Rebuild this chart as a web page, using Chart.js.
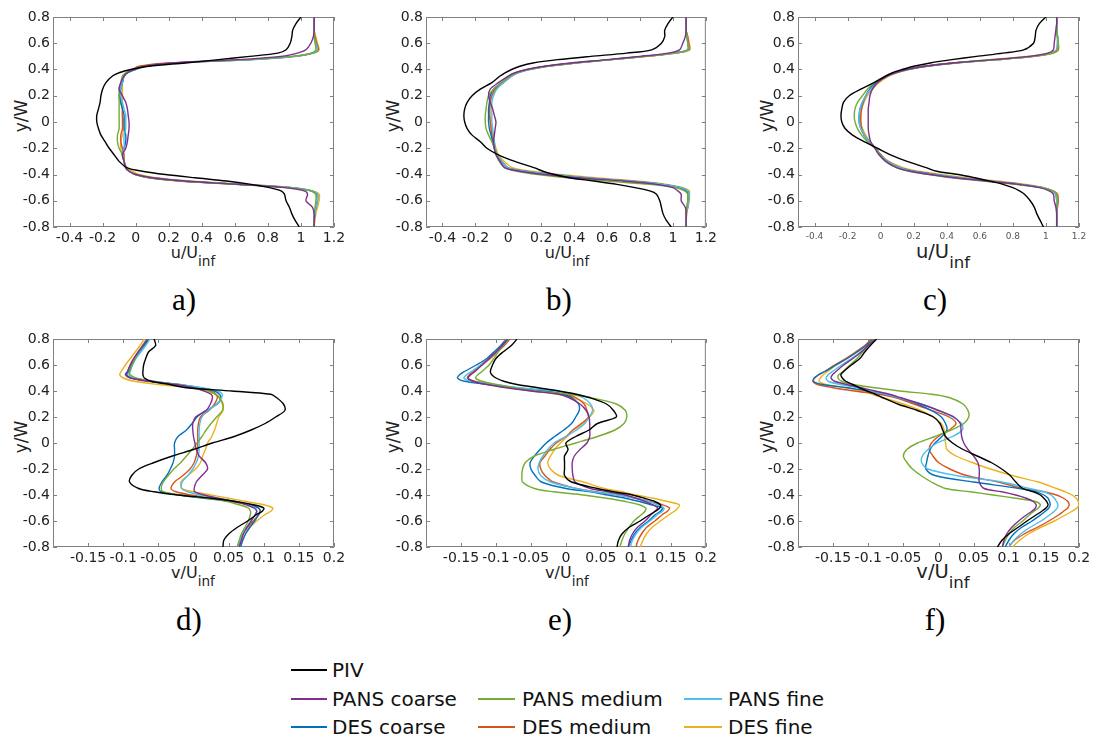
<!DOCTYPE html>
<html>
<head>
<title>Velocity profiles</title>
<script src="https://cdn.jsdelivr.net/npm/chart.js@4.4.0/dist/chart.umd.min.js"></script>
<style>
    body { margin: 0; background: #fff; font-family: "DejaVu Sans", sans-serif; }
    #page { position: relative; width: 1095px; height: 742px; overflow: hidden; }
    canvas { position: absolute; }
    .xlab { position: absolute; line-height: 1; white-space: nowrap; transform: translateX(-50%); color: #222; }
    .xlab span { font-size: 0.85em; position: relative; top: 0.6em; }
    .ylab { position: absolute; line-height: 1; white-space: nowrap; font-size: 17px; color: #222;
            transform: translate(-50%, -50%) rotate(-90deg); }
    .tag { position: absolute; line-height: 1; font-family: "Liberation Serif", serif; font-size: 31px;
           transform: translateX(-50%); color: #000; }
    .lgline { position: absolute; height: 2px; }
    .lgtext { position: absolute; line-height: 1; font-size: 20px; color: #111; white-space: nowrap; }
</style>
</head>
<body>
<div id="page">
    <div class="xlab" style="left:193px; top:245px; font-size:16px">u/U<span>inf</span></div>
    <div class="xlab" style="left:567px; top:245px; font-size:16px">u/U<span>inf</span></div>
    <div class="xlab" style="left:943px; top:242px; font-size:19.5px">u/U<span>inf</span></div>
    <div class="xlab" style="left:193px; top:565px; font-size:16px">v/U<span>inf</span></div>
    <div class="xlab" style="left:567px; top:565px; font-size:16px">v/U<span>inf</span></div>
    <div class="xlab" style="left:943px; top:562px; font-size:19.5px">v/U<span>inf</span></div>

    <div class="ylab" style="left:21px; top:116px">y/W</div>
    <div class="ylab" style="left:393px; top:116px">y/W</div>
    <div class="ylab" style="left:767px; top:116px">y/W</div>
    <div class="ylab" style="left:21px; top:437px">y/W</div>
    <div class="ylab" style="left:393px; top:437px">y/W</div>
    <div class="ylab" style="left:767px; top:437px">y/W</div>

    <div class="tag" style="left:184px; top:284px">a)</div>
    <div class="tag" style="left:559px; top:284px">b)</div>
    <div class="tag" style="left:935px; top:284px">c)</div>
    <div class="tag" style="left:189px; top:604px">d)</div>
    <div class="tag" style="left:560px; top:604px">e)</div>
    <div class="tag" style="left:935px; top:604px">f)</div>
</div>

<script>
// common wall-normal positions y/W for every profile
const yW = [0.8,0.75,0.7,0.65,0.6,0.55,0.525,0.5,0.475,0.45,0.425,0.4,0.375,0.35,0.3,0.25,0.2,0.15,0.1,0.05,0,
            -0.05,-0.1,-0.15,-0.2,-0.25,-0.3,-0.35,-0.375,-0.4,-0.425,-0.45,-0.475,-0.5,-0.525,-0.55,-0.6,-0.65,-0.7,-0.75,-0.8];

const yTicks = [-0.8,-0.6,-0.4,-0.2,0,0.2,0.4,0.6,0.8];
const yTickLabels = ['-0.8','-0.6','-0.4','-0.2','0','0.2','0.4','0.6','0.8'];
const uTicks = [-0.4,-0.2,0,0.2,0.4,0.6,0.8,1,1.2];
const uTickLabels = ['-0.4','-0.2','0','0.2','0.4','0.6','0.8','1','1.2'];
const vTicks = [-0.15,-0.1,-0.05,0,0.05,0.1,0.15,0.2];
const vTickLabels = ['-0.15','-0.1','-0.05','0','0.05','0.1','0.15','0.2'];

const seriesNames = ['PIV','PANS coarse','PANS medium','PANS fine','DES coarse','DES medium','DES fine'];
const seriesColors = ['#000000','#7E2F8E','#77AC30','#4DBEEE','#0072BD','#D95319','#EDB120'];

// a) u/Uinf
const aPIV   = [1.0,0.97,0.95,0.945,0.935,0.91,0.86,0.69,0.5,0.3,0.08,-0.03,-0.1,-0.14,-0.18,-0.2,-0.21,-0.215,-0.225,-0.235,-0.235,-0.225,-0.21,-0.185,-0.16,-0.13,-0.1,-0.05,0.04,0.18,0.36,0.55,0.7,0.81,0.88,0.9,0.91,0.93,0.945,0.965,0.99];
const aPANSc = [1.08,1.08,1.08,1.075,1.06,1.03,0.98,0.88,0.62,0.22,0.05,-0.01,-0.05,-0.07,-0.09,-0.1,-0.08,-0.06,-0.05,-0.045,-0.04,-0.04,-0.045,-0.05,-0.06,-0.08,-0.07,-0.06,-0.04,0.0,0.1,0.3,0.62,0.9,1.02,1.04,1.03,1.07,1.08,1.08,1.08];
const aPANSm = [1.08,1.08,1.08,1.08,1.085,1.09,1.06,0.95,0.68,0.22,0.05,-0.02,-0.06,-0.08,-0.09,-0.1,-0.1,-0.1,-0.1,-0.1,-0.1,-0.1,-0.11,-0.11,-0.1,-0.08,-0.07,-0.06,-0.04,0.0,0.08,0.26,0.6,0.93,1.06,1.09,1.09,1.085,1.08,1.08,1.08];
const aPANSf = [1.08,1.08,1.08,1.08,1.09,1.1,1.07,0.97,0.72,0.25,0.06,0.0,-0.05,-0.07,-0.08,-0.09,-0.09,-0.08,-0.07,-0.06,-0.06,-0.06,-0.07,-0.07,-0.07,-0.08,-0.07,-0.06,-0.04,0.0,0.1,0.3,0.65,0.95,1.07,1.1,1.1,1.09,1.085,1.08,1.08];
const aDESc  = [1.08,1.08,1.08,1.08,1.09,1.1,1.07,0.96,0.7,0.24,0.06,0.0,-0.05,-0.07,-0.08,-0.09,-0.1,-0.09,-0.08,-0.07,-0.07,-0.07,-0.06,-0.06,-0.07,-0.08,-0.07,-0.06,-0.04,0.0,0.09,0.28,0.63,0.94,1.06,1.09,1.1,1.09,1.085,1.08,1.08];
const aDESm  = [1.08,1.08,1.08,1.085,1.095,1.105,1.07,0.95,0.68,0.2,0.02,-0.02,-0.05,-0.07,-0.08,-0.09,-0.09,-0.09,-0.08,-0.08,-0.08,-0.08,-0.09,-0.09,-0.08,-0.07,-0.07,-0.06,-0.04,0.0,0.08,0.27,0.62,0.94,1.07,1.1,1.1,1.09,1.085,1.08,1.08];
const aDESf  = [1.08,1.08,1.08,1.09,1.1,1.11,1.08,0.97,0.7,0.24,0.05,-0.01,-0.05,-0.07,-0.08,-0.08,-0.08,-0.08,-0.08,-0.08,-0.07,-0.07,-0.08,-0.09,-0.09,-0.08,-0.07,-0.05,-0.02,0.02,0.12,0.33,0.66,0.95,1.07,1.11,1.11,1.1,1.09,1.085,1.08];

// b) u/Uinf
const bPIV   = [1.0,0.97,0.95,0.95,0.93,0.87,0.72,0.5,0.3,0.15,0.07,0.02,-0.02,-0.05,-0.1,-0.17,-0.22,-0.25,-0.265,-0.27,-0.265,-0.25,-0.22,-0.17,-0.13,-0.06,0.04,0.16,0.21,0.28,0.37,0.52,0.66,0.77,0.86,0.9,0.92,0.93,0.94,0.96,0.99];
const bPANSc = [1.08,1.08,1.08,1.075,1.06,1.04,0.97,0.8,0.6,0.38,0.22,0.11,0.04,0.0,-0.06,-0.11,-0.12,-0.11,-0.095,-0.085,-0.075,-0.08,-0.085,-0.09,-0.085,-0.075,-0.05,-0.02,0.07,0.22,0.42,0.7,0.9,1.0,1.03,1.05,1.05,1.075,1.08,1.08,1.08];
const bPANSm = [1.08,1.08,1.08,1.085,1.09,1.09,1.01,0.84,0.63,0.41,0.24,0.12,0.05,0.01,-0.04,-0.09,-0.12,-0.13,-0.135,-0.14,-0.14,-0.135,-0.12,-0.1,-0.085,-0.075,-0.055,-0.02,0.05,0.18,0.36,0.6,0.86,1.01,1.07,1.09,1.09,1.085,1.08,1.08,1.08];
const bPANSf = [1.08,1.08,1.08,1.085,1.09,1.095,1.02,0.83,0.63,0.41,0.24,0.13,0.06,0.02,-0.03,-0.07,-0.09,-0.1,-0.1,-0.1,-0.1,-0.095,-0.09,-0.085,-0.08,-0.07,-0.04,0.0,0.1,0.27,0.47,0.74,0.94,1.05,1.09,1.1,1.095,1.09,1.08,1.08,1.08];
const bDESc  = [1.08,1.08,1.08,1.085,1.09,1.09,1.0,0.82,0.62,0.4,0.23,0.12,0.05,0.01,-0.04,-0.09,-0.11,-0.115,-0.12,-0.12,-0.12,-0.115,-0.105,-0.095,-0.085,-0.07,-0.04,0.0,0.1,0.26,0.46,0.73,0.93,1.04,1.08,1.09,1.09,1.085,1.08,1.08,1.08];
const bDESm  = [1.08,1.08,1.08,1.09,1.095,1.1,1.01,0.83,0.62,0.4,0.23,0.12,0.05,0.02,-0.03,-0.08,-0.1,-0.11,-0.115,-0.115,-0.11,-0.105,-0.1,-0.09,-0.08,-0.07,-0.04,0.0,0.1,0.27,0.47,0.74,0.94,1.05,1.09,1.1,1.095,1.09,1.08,1.08,1.08];
const bDESf  = [1.08,1.08,1.08,1.09,1.1,1.1,1.02,0.84,0.63,0.41,0.24,0.13,0.06,0.02,-0.03,-0.08,-0.1,-0.11,-0.11,-0.11,-0.105,-0.1,-0.095,-0.085,-0.075,-0.06,-0.025,0.03,0.14,0.32,0.53,0.78,0.96,1.06,1.1,1.1,1.1,1.09,1.085,1.08,1.08];

// c) u/Uinf
const cPIV   = [1.0,0.96,0.94,0.935,0.925,0.865,0.74,0.58,0.43,0.3,0.2,0.13,0.07,0.03,-0.04,-0.12,-0.19,-0.225,-0.235,-0.24,-0.235,-0.215,-0.17,-0.1,-0.02,0.06,0.16,0.28,0.34,0.47,0.57,0.66,0.74,0.8,0.84,0.87,0.905,0.93,0.945,0.965,0.985];
const cPANSc = [1.065,1.065,1.06,1.055,1.05,1.045,1.01,0.9,0.68,0.44,0.27,0.16,0.09,0.04,-0.02,-0.05,-0.065,-0.07,-0.075,-0.075,-0.075,-0.075,-0.07,-0.06,-0.035,-0.01,0.03,0.1,0.18,0.3,0.45,0.64,0.83,0.96,1.02,1.045,1.05,1.06,1.065,1.065,1.065];
const cPANSm = [1.065,1.065,1.065,1.07,1.075,1.07,1.04,0.93,0.71,0.46,0.28,0.16,0.08,0.03,-0.04,-0.08,-0.11,-0.14,-0.155,-0.16,-0.155,-0.14,-0.115,-0.08,-0.035,0.0,0.03,0.1,0.17,0.29,0.43,0.62,0.82,0.97,1.04,1.065,1.07,1.065,1.065,1.065,1.065];
const cPANSf = [1.065,1.065,1.065,1.07,1.07,1.065,1.03,0.92,0.7,0.45,0.28,0.17,0.09,0.04,-0.02,-0.06,-0.09,-0.11,-0.125,-0.13,-0.13,-0.12,-0.1,-0.07,-0.03,0.0,0.04,0.12,0.2,0.33,0.48,0.66,0.85,0.98,1.04,1.06,1.065,1.065,1.065,1.065,1.065];
const cDESc  = [1.065,1.065,1.065,1.07,1.07,1.065,1.03,0.92,0.7,0.45,0.27,0.16,0.08,0.03,-0.03,-0.065,-0.09,-0.11,-0.125,-0.13,-0.13,-0.12,-0.1,-0.07,-0.03,0.0,0.04,0.12,0.2,0.33,0.47,0.65,0.84,0.98,1.04,1.06,1.065,1.065,1.065,1.065,1.065];
const cDESm  = [1.065,1.065,1.065,1.07,1.075,1.075,1.045,0.93,0.7,0.44,0.26,0.15,0.08,0.03,-0.03,-0.065,-0.09,-0.105,-0.115,-0.12,-0.12,-0.115,-0.1,-0.07,-0.03,0.0,0.04,0.12,0.2,0.33,0.47,0.66,0.85,0.98,1.045,1.07,1.075,1.07,1.065,1.065,1.065];
const cDESf  = [1.065,1.065,1.065,1.07,1.07,1.065,1.02,0.88,0.66,0.43,0.27,0.17,0.1,0.05,-0.01,-0.05,-0.08,-0.1,-0.115,-0.12,-0.12,-0.11,-0.09,-0.065,-0.03,0.0,0.05,0.14,0.23,0.37,0.52,0.71,0.88,0.99,1.04,1.06,1.065,1.065,1.065,1.065,1.065];

// d) v/Uinf
const dPIV   = [-0.056,-0.054,-0.064,-0.068,-0.071,-0.072,-0.072,-0.07,-0.06,-0.034,-0.01,0.055,0.11,0.118,0.128,0.13,0.117,0.102,0.082,0.058,0.027,0.0,-0.03,-0.056,-0.078,-0.088,-0.091,-0.078,-0.056,-0.022,0.025,0.06,0.085,0.1,0.098,0.09,0.077,0.062,0.05,0.043,0.042];
const dPANSc = [-0.065,-0.072,-0.079,-0.085,-0.09,-0.094,-0.097,-0.09,-0.065,-0.025,0.0,0.015,0.025,0.027,0.024,0.018,0.003,-0.001,-0.001,0.0,0.002,0.004,0.008,0.017,0.02,0.012,0.004,0.001,0.002,0.015,0.035,0.058,0.075,0.086,0.09,0.088,0.082,0.076,0.071,0.068,0.065];
const dPANSm = [-0.067,-0.072,-0.078,-0.083,-0.087,-0.091,-0.09,-0.082,-0.06,-0.025,0.0,0.022,0.032,0.037,0.042,0.041,0.033,0.025,0.018,0.012,0.005,-0.002,-0.01,-0.018,-0.028,-0.036,-0.043,-0.046,-0.043,-0.02,0.02,0.048,0.065,0.078,0.081,0.081,0.078,0.073,0.068,0.065,0.062];
const dPANSf = [-0.062,-0.068,-0.075,-0.082,-0.087,-0.09,-0.092,-0.085,-0.058,-0.02,0.012,0.035,0.041,0.04,0.033,0.02,0.012,0.009,0.008,0.008,0.008,0.008,0.007,0.004,-0.001,-0.008,-0.016,-0.017,-0.008,0.01,0.035,0.06,0.078,0.088,0.09,0.088,0.082,0.075,0.07,0.066,0.063];
const dDESc  = [-0.063,-0.07,-0.077,-0.083,-0.088,-0.092,-0.095,-0.088,-0.06,-0.02,0.01,0.03,0.037,0.039,0.034,0.018,0.005,-0.002,-0.01,-0.022,-0.027,-0.027,-0.027,-0.029,-0.033,-0.038,-0.045,-0.049,-0.046,-0.02,0.015,0.055,0.08,0.093,0.095,0.093,0.087,0.08,0.074,0.07,0.067];
const dDESm  = [-0.066,-0.072,-0.078,-0.085,-0.09,-0.094,-0.096,-0.088,-0.062,-0.022,0.005,0.025,0.032,0.034,0.03,0.022,0.01,0.007,0.006,0.006,0.006,0.006,0.004,0.001,-0.005,-0.015,-0.027,-0.032,-0.025,-0.004,0.025,0.058,0.08,0.092,0.095,0.093,0.085,0.077,0.07,0.066,0.063];
const dDESf  = [-0.07,-0.076,-0.083,-0.09,-0.097,-0.103,-0.105,-0.1,-0.085,-0.05,-0.005,0.02,0.03,0.036,0.041,0.042,0.036,0.033,0.03,0.026,0.02,0.017,0.013,0.01,0.003,-0.008,-0.018,-0.016,0.0,0.025,0.05,0.075,0.1,0.113,0.11,0.102,0.09,0.08,0.074,0.07,0.067];

// e) v/Uinf
const ePIV   = [-0.07,-0.078,-0.09,-0.1,-0.105,-0.108,-0.106,-0.1,-0.089,-0.07,-0.04,-0.01,0.015,0.033,0.058,0.068,0.072,0.045,0.033,0.014,0.0,0.003,-0.002,-0.002,-0.002,-0.002,0.008,0.045,0.068,0.095,0.112,0.127,0.135,0.134,0.128,0.12,0.106,0.09,0.08,0.075,0.073];
const ePANSc = [-0.083,-0.091,-0.1,-0.11,-0.12,-0.13,-0.136,-0.14,-0.133,-0.113,-0.085,-0.05,-0.01,0.004,0.02,0.029,0.033,0.034,0.034,0.034,0.03,0.02,0.012,0.009,0.009,0.01,0.013,0.035,0.06,0.085,0.1,0.113,0.124,0.131,0.127,0.122,0.113,0.102,0.095,0.091,0.089];
const ePANSm = [-0.085,-0.09,-0.097,-0.103,-0.11,-0.12,-0.126,-0.129,-0.12,-0.1,-0.075,-0.045,0.005,0.035,0.072,0.085,0.087,0.083,0.07,0.045,0.014,-0.018,-0.045,-0.058,-0.062,-0.063,-0.062,-0.045,-0.018,0.025,0.058,0.085,0.105,0.114,0.113,0.108,0.097,0.09,0.084,0.08,0.077];
const ePANSf = [-0.082,-0.09,-0.1,-0.11,-0.122,-0.135,-0.142,-0.146,-0.135,-0.1,-0.068,-0.015,0.01,0.024,0.035,0.038,0.033,0.027,0.015,0.0,-0.017,-0.026,-0.033,-0.038,-0.04,-0.036,-0.022,0.015,0.04,0.075,0.1,0.118,0.131,0.14,0.138,0.131,0.12,0.108,0.1,0.095,0.092];
const eDESc  = [-0.085,-0.093,-0.103,-0.113,-0.128,-0.145,-0.152,-0.155,-0.145,-0.11,-0.07,-0.028,-0.005,0.008,0.018,0.019,0.014,0.008,-0.003,-0.016,-0.028,-0.037,-0.045,-0.051,-0.05,-0.044,-0.035,0.0,0.035,0.06,0.085,0.105,0.122,0.138,0.135,0.128,0.118,0.106,0.098,0.093,0.089];
const eDESm  = [-0.08,-0.088,-0.098,-0.108,-0.12,-0.132,-0.138,-0.141,-0.13,-0.105,-0.075,-0.03,0.0,0.014,0.026,0.03,0.032,0.022,0.01,0.0,-0.014,-0.023,-0.03,-0.037,-0.036,-0.03,-0.018,0.015,0.042,0.075,0.1,0.12,0.138,0.148,0.145,0.138,0.127,0.115,0.108,0.103,0.1];
const eDESf  = [-0.085,-0.093,-0.102,-0.112,-0.122,-0.132,-0.137,-0.14,-0.135,-0.113,-0.08,-0.05,-0.012,0.01,0.03,0.04,0.034,0.025,0.01,0.002,-0.008,-0.016,-0.022,-0.026,-0.022,-0.01,0.025,0.055,0.08,0.1,0.125,0.145,0.162,0.16,0.155,0.148,0.135,0.123,0.115,0.11,0.106];

// f) v/Uinf
const fPIV   = [-0.088,-0.097,-0.105,-0.112,-0.124,-0.135,-0.139,-0.137,-0.132,-0.122,-0.113,-0.102,-0.09,-0.08,-0.058,-0.03,-0.007,0.002,0.006,0.01,0.02,0.035,0.055,0.075,0.09,0.102,0.11,0.12,0.135,0.145,0.15,0.154,0.156,0.153,0.147,0.14,0.126,0.113,0.1,0.09,0.084];
const fPANSc = [-0.09,-0.1,-0.11,-0.122,-0.135,-0.146,-0.151,-0.153,-0.148,-0.13,-0.11,-0.09,-0.07,-0.055,-0.025,0.0,0.022,0.031,0.032,0.033,0.036,0.042,0.05,0.056,0.058,0.058,0.058,0.065,0.09,0.11,0.125,0.135,0.139,0.138,0.133,0.126,0.114,0.104,0.097,0.093,0.091];
const fPANSm = [-0.092,-0.1,-0.108,-0.116,-0.126,-0.136,-0.142,-0.143,-0.138,-0.122,-0.09,-0.055,-0.01,0.015,0.035,0.042,0.043,0.036,0.018,-0.005,-0.03,-0.045,-0.05,-0.045,-0.037,-0.025,-0.01,0.01,0.045,0.078,0.11,0.138,0.145,0.142,0.136,0.13,0.12,0.108,0.1,0.095,0.091];
const fPANSf = [-0.09,-0.1,-0.111,-0.124,-0.138,-0.151,-0.157,-0.16,-0.157,-0.14,-0.115,-0.095,-0.075,-0.058,-0.025,0.0,0.02,0.033,0.034,0.02,-0.002,-0.015,-0.023,-0.024,-0.015,0.025,0.09,0.13,0.15,0.16,0.165,0.168,0.17,0.169,0.165,0.159,0.146,0.13,0.117,0.107,0.1];
const fDESc  = [-0.093,-0.103,-0.116,-0.13,-0.146,-0.162,-0.171,-0.177,-0.178,-0.165,-0.13,-0.1,-0.075,-0.058,-0.03,-0.01,0.004,0.01,0.012,0.005,-0.005,-0.012,-0.015,-0.017,-0.018,-0.005,0.05,0.115,0.138,0.15,0.156,0.158,0.159,0.157,0.152,0.146,0.133,0.118,0.107,0.1,0.095];
const fDESm  = [-0.095,-0.105,-0.118,-0.132,-0.148,-0.162,-0.17,-0.176,-0.179,-0.172,-0.15,-0.12,-0.085,-0.062,-0.035,-0.01,0.015,0.025,0.015,0.0,-0.01,-0.013,-0.008,0.0,0.016,0.04,0.085,0.12,0.15,0.168,0.178,0.184,0.186,0.184,0.178,0.172,0.157,0.14,0.122,0.108,0.1];
const fDESf  = [-0.092,-0.103,-0.116,-0.13,-0.145,-0.158,-0.164,-0.168,-0.17,-0.16,-0.13,-0.11,-0.094,-0.08,-0.05,-0.025,-0.008,0.004,0.008,0.009,0.01,0.012,0.025,0.048,0.074,0.105,0.142,0.168,0.18,0.19,0.196,0.199,0.2,0.197,0.19,0.182,0.165,0.145,0.128,0.115,0.105];

Chart.defaults.font.family = "'DejaVu Sans', sans-serif";

// box: canvas left, top, width, height ; plot: left, top, right, bottom (page pixels)
const panels = [
    { series: [aPIV, aPANSc, aPANSm, aPANSf, aDESc, aDESm, aDESf], min: -0.5, max: 1.2, ticks: uTicks, labels: uTickLabels,
      font: 14, color: '#222', pad: 3, box: [0, 0, 360, 252], plot: [53, 17, 334, 227] },
    { series: [bPIV, bPANSc, bPANSm, bPANSf, bDESc, bDESm, bDESf], min: -0.5, max: 1.2, ticks: uTicks, labels: uTickLabels,
      font: 14, color: '#222', pad: 3, box: [360, 0, 360, 252], plot: [426, 17, 708, 227] },
    { series: [cPIV, cPANSc, cPANSm, cPANSf, cDESc, cDESm, cDESf], min: -0.5, max: 1.2, ticks: uTicks, labels: uTickLabels,
      font: 9, color: '#555', pad: 4, box: [720, 0, 375, 252], plot: [798, 17, 1079, 227] },
    { series: [dPIV, dPANSc, dPANSm, dPANSf, dDESc, dDESm, dDESf], min: -0.2, max: 0.2, ticks: vTicks, labels: vTickLabels,
      font: 14, color: '#222', pad: 3, box: [0, 322, 360, 252], plot: [53, 339, 334, 547] },
    { series: [ePIV, ePANSc, ePANSm, ePANSf, eDESc, eDESm, eDESf], min: -0.2, max: 0.2, ticks: vTicks, labels: vTickLabels,
      font: 14, color: '#222', pad: 3, box: [360, 322, 360, 252], plot: [426, 339, 708, 547] },
    { series: [fPIV, fPANSc, fPANSm, fPANSf, fDESc, fDESm, fDESf], min: -0.2, max: 0.2, ticks: vTicks, labels: vTickLabels,
      font: 14, color: '#222', pad: 3, box: [720, 322, 375, 252], plot: [798, 339, 1079, 547] }
];

// matlab-like frame with inward ticks on all four sides
const frame = {
    id: 'frame',
    beforeDatasetsDraw(chart) {
        const { ctx, chartArea: a, scales } = chart;
        ctx.save();
        ctx.strokeStyle = '#808080';
        ctx.lineWidth = 1;
        ctx.beginPath();
        ctx.rect(a.left + 0.5, a.top + 0.5, a.width - 1, a.height - 1);
        for (const t of scales.x.ticks) {
            const px = Math.round(scales.x.getPixelForValue(t.value)) + 0.5;
            ctx.moveTo(px, a.bottom); ctx.lineTo(px, a.bottom - 4);
            ctx.moveTo(px, a.top); ctx.lineTo(px, a.top + 4);
        }
        for (const t of scales.y.ticks) {
            const py = Math.round(scales.y.getPixelForValue(t.value)) + 0.5;
            ctx.moveTo(a.left, py); ctx.lineTo(a.left + 4, py);
            ctx.moveTo(a.right, py); ctx.lineTo(a.right - 4, py);
        }
        ctx.stroke();
        ctx.restore();
    }
};

const page = document.getElementById('page');

panels.forEach(p => {
    const [bx, by, bw, bh] = p.box;
    const [pl, pt, pr, pb] = p.plot;
    const canvas = document.createElement('canvas');
    canvas.width = bw;
    canvas.height = bh;
    canvas.style.left = bx + 'px';
    canvas.style.top = by + 'px';
    page.appendChild(canvas);

    const datasets = p.series.map((xs, k) => ({
        label: seriesNames[k],
        data: yW.map((y, i) => ({ x: xs[i], y: y })),
        borderColor: seriesColors[k],
        showLine: true,
        fill: false,
        pointRadius: 0,
        borderWidth: 1.4,
        tension: 0.3
    }));

    new Chart(canvas, {
        type: 'scatter',
        data: { datasets: datasets },
        options: {
            responsive: false,
            animation: false,
            devicePixelRatio: 1,
            events: [],
            layout: { padding: { top: pt - by, right: bx + bw - pr, left: 0, bottom: 0 } },
            plugins: { legend: { display: false }, tooltip: { enabled: false } },
            scales: {
                x: {
                    type: 'linear', min: p.min, max: p.max,
                    grid: { display: false, drawTicks: false },
                    border: { display: false },
                    afterBuildTicks: s => { s.ticks = p.ticks.map(v => ({ value: v })); },
                    afterFit: s => { s.height = by + bh - pb; },
                    ticks: { callback: (v, i) => p.labels[i], autoSkip: false, maxRotation: 0,
                             padding: p.pad, color: p.color, font: { size: p.font } }
                },
                y: {
                    type: 'linear', min: -0.8, max: 0.8,
                    grid: { display: false, drawTicks: false },
                    border: { display: false },
                    afterBuildTicks: s => { s.ticks = yTicks.map(v => ({ value: v })); },
                    afterFit: s => { s.width = pl - bx; },
                    ticks: { callback: (v, i) => yTickLabels[i], autoSkip: false,
                             padding: 3, color: '#222', font: { size: 14 } }
                }
            }
        },
        plugins: [frame]
    });
});

// legend: [series index, line left, line right, text left, row centre]
const legendSlots = [
    [0, 291, 327, 332, 670],
    [1, 291, 327, 332, 699], [2, 478, 515, 522, 699], [3, 684, 722, 728, 699],
    [4, 291, 327, 332, 727], [5, 478, 515, 522, 727], [6, 684, 722, 728, 727]
];
legendSlots.forEach(([k, l0, l1, tx, cy]) => {
    const line = document.createElement('div');
    line.className = 'lgline';
    line.style.left = l0 + 'px';
    line.style.width = (l1 - l0) + 'px';
    line.style.top = (cy - 1) + 'px';
    line.style.background = seriesColors[k];
    page.appendChild(line);
    const txt = document.createElement('div');
    txt.className = 'lgtext';
    txt.style.left = tx + 'px';
    txt.style.top = (cy - 10) + 'px';
    txt.textContent = seriesNames[k];
    page.appendChild(txt);
});
</script>
</body>
</html>
